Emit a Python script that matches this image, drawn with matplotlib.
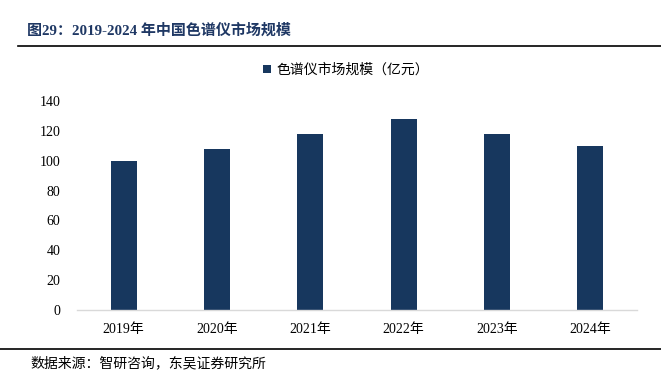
import matplotlib.pyplot as plt
from matplotlib.lines import Line2D

plt.rcParams['font.family'] = ['Liberation Serif', 'Noto Sans CJK SC']

# Données
years = ['2019年', '2020年', '2021年', '2022年', '2023年', '2024年']
market = [100, 108, 118, 128, 118, 110]
series_name = '色谱仪市场规模（亿元）'
yticks = [0, 20, 40, 60, 80, 100, 120, 140]

bar_color = '#17375E'

fig = plt.figure(figsize=(6.61, 3.78), dpi=100)
ax = fig.add_axes([77 / 661, 1 - 310 / 378, 560 / 661, 209 / 378])

ax.bar(years, market, width=0.28, color=bar_color, label=series_name)
ax.set_ylim(0, 140)
ax.set_yticks(yticks)
ax.set_xlim(-0.5, len(years) - 0.5)

for s in ['top', 'right', 'left']:
    ax.spines[s].set_visible(False)
ax.spines['bottom'].set_color('#D9D9D9')
ax.spines['bottom'].set_linewidth(1.0)
ax.tick_params(axis='both', length=0, labelsize=10, colors='black')
ax.tick_params(axis='x', pad=9)
ax.tick_params(axis='y', pad=12)

ax.legend(loc='upper center', bbox_to_anchor=(0.48, 1.24), frameon=False,
          fontsize=10, handlelength=0.6, handleheight=0.6, handletextpad=0.4)

# Titre et lignes
fig.text(27 / 661, 1 - 31 / 378, '图29：2019-2024 年中国色谱仪市场规模', fontsize=10.8,
         fontweight='bold', color='#1F3864', va='center', ha='left')
fig.add_artist(Line2D([18 / 661, 1], [1 - 46 / 378, 1 - 46 / 378], color='black', lw=1.2))
fig.add_artist(Line2D([0, 1], [1 - 349 / 378, 1 - 349 / 378], color='black', lw=1.2))
fig.text(30 / 661, 1 - 363 / 378, '数据来源：智研咨询，东吴证券研究所', fontsize=10,
         va='center', ha='left')

fig.savefig('out.png', dpi=100)
